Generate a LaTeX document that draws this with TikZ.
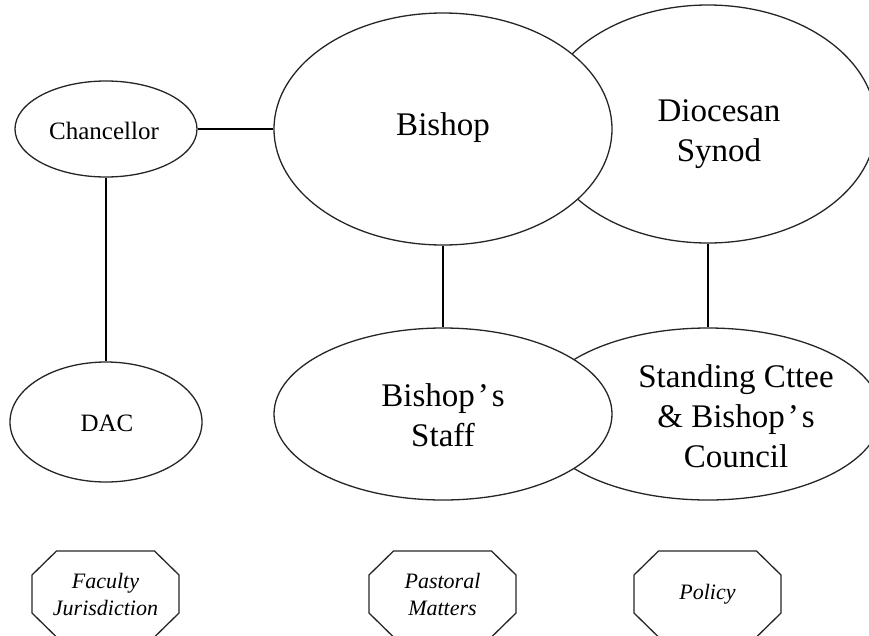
\documentclass[tikz,border=0pt]{standalone}
\usepackage{fontspec}
\setmainfont{Liberation Serif}
\usetikzlibrary{shapes.geometric,calc}

\tikzset{
  body/.style={ellipse, draw=black!85, line width=1.3pt, fill=white, inner sep=0pt},
  bigtext/.style={align=center, font=\fontsize{33}{40}\selectfont},
  smalltext/.style={font=\fontsize{25}{30}\selectfont},
  areatext/.style={align=center, font=\fontsize{22}{27}\selectfont\itshape},
  link/.style={draw=black, line width=2.6pt},
  octline/.style={draw=black!85, line width=1.3pt}
}

% octagonal frame around a named node centre
\newcommand\octframe[1]{%
  \draw[octline]
    ([shift={(-73.5,-19)}]#1.center) -- ([shift={(-49,-43)}]#1.center) --
    ([shift={(49,-43)}]#1.center) -- ([shift={(73.5,-19)}]#1.center) --
    ([shift={(73.5,19)}]#1.center) -- ([shift={(49,43)}]#1.center) --
    ([shift={(-49,43)}]#1.center) -- ([shift={(-73.5,19)}]#1.center) -- cycle;}

\begin{document}
\begin{tikzpicture}[x=1pt,y=-1pt]
  \useasboundingbox (0,0) rectangle (869,635);
  \clip (0,0) rectangle (869,635);
  \fill[white] (0,0) rectangle (869,635);

  % bodies drawn first sit behind the overlapping ones
  \node[body, minimum width=336pt, minimum height=238pt] (synod) at (708,124) {};
  \node[body, minimum width=346pt, minimum height=172pt] (standing) at (708,414) {};
  \node[body, minimum width=338pt, minimum height=232pt] (bishop) at (443,129) {};
  \node[body, minimum width=338pt, minimum height=172pt] (staff) at (443,414) {};
  \node[body, minimum width=182pt, minimum height=96pt] (chan) at (106,129) {};
  \node[body, minimum width=192pt, minimum height=120pt] (dac) at (106,422) {};

  % labels
  \node[bigtext] (bishoptxt) at (443,128) {Bishop};
  \node[bigtext] (synodtxt) at (719,134) {Diocesan\\Synod};
  \node[bigtext] (stafftxt) at (443,415) {Bishop\kern3pt’\kern3pt s\\Staff};
  \node[bigtext] (standingtxt) at (736,416) {Standing Cttee\\\& Bishop\kern3pt’\kern3pt s\\Council};
  \node[smalltext] (chantxt) at (104,131) {Chancellor};
  \node[smalltext] (dactxt) at (107,423) {DAC};

  % connectors
  \draw[link] (chan.east) -- (bishop.west);
  \draw[link] (chan.south) -- (dac.north);
  \draw[link] (bishop.south) -- (staff.north);
  \draw[link] (synod.south) -- (standing.north);

  % areas of responsibility
  \node[areatext] (faculty) at (105.5,594) {Faculty\\Jurisdiction};
  \node[areatext] (pastoral) at (442.5,594) {Pastoral\\Matters};
  \node[areatext] (policy) at (707.5,594) {Policy};
  \octframe{faculty}
  \octframe{pastoral}
  \octframe{policy}
\end{tikzpicture}
\end{document}
